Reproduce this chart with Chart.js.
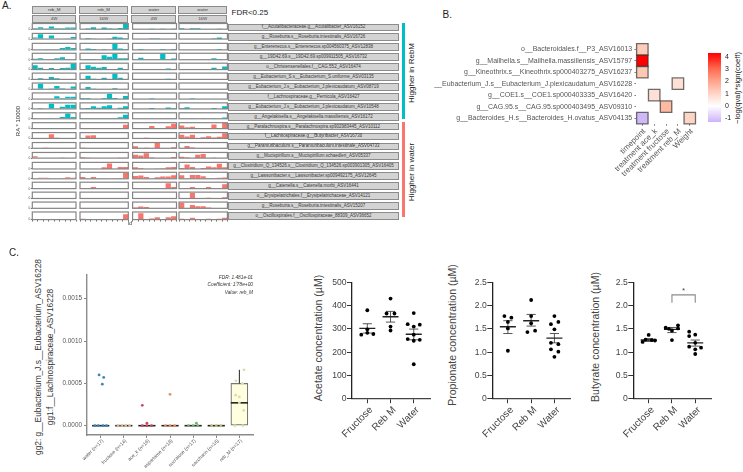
<!DOCTYPE html>
<html><head><meta charset="utf-8">
<script src="https://cdn.jsdelivr.net/npm/chart.js@4"></script>
<style>
html,body{margin:0;padding:0;background:#fff;width:743px;height:472px;overflow:hidden;font-family:"Liberation Sans",Arial,sans-serif}
#page{position:absolute;left:0;top:0;width:743px;height:472px;overflow:hidden;background:#fff;filter:blur(.3px)}
canvas{position:absolute}
.t{position:absolute;white-space:nowrap;line-height:1}
.box{position:absolute;box-sizing:border-box}
</style></head><body>
<div id="page"></div>
<script>
// ---------- Panel A data (fraction of each row's own scale)
const facetGroups=["reb_M","reb_M","water","water"];
const facetTimes=["4W","16W","4W","16W"];
const taxaLabels=[
"f__Acutalibacteraceae.g__Acutalibacter_ASV16152","g__Roseburia.s__Roseburia.intestinalis_ASV16726",
"g__Enterenecus.s__Enterenecus.sp004560375_ASV12838","g__19D42.69.s__19D42.69.sp009911505_ASV16732",
"o__Christensenellales.f__CAG.552_ASV16474","g__Eubacterium_S.s__Eubacterium_S.uniforme_ASV03135",
"g__Eubacterium_J.s__Eubacterium_J.plexicaudatum_ASV08719","f__Lachnospiraceae.g__Pernicola_ASV16427",
"g__Eubacterium_J.s__Eubacterium_J.plexicaudatum_ASV10548","g__Angelakisella.s__Angelakisella.massiliensis_ASV16172",
"g__Paralachnospira.s__Paralachnospira.sp902983445_ASV10112","f__Lachnospiraceae.g__Butyribacter_ASV16730",
"g__Paramuribaculum.s__Paramuribaculum.intestinale_ASV04733","g__Mucispirillum.s__Mucispirillum.schaedleri_ASV05337",
"g__Clostridium_Q_134526.s__Clostridium_Q_134526.sp003901305_ASV16405","g__Lawsonibacter.s__Lawsonibacter.sp009492175_ASV12645",
"g__Catenella.s__Catenella.morbi_ASV16441","o__Erysipelatrichales.f__Erysipelatrichaceae_ASV14121",
"g__Roseburia.s__Roseburia.intestinalis_ASV15207","o__Oscillospirales.f__Oscillospiraceae_88309_ASV36652"];
const rebM4W=[
[.15,.35,.05,.5,.15,.15,.3,.3],[.3,.85,.1,.65,.1,0,.15,.35],[.05,.05,.1,.1,.1,.3,.45,.3],[.15,.25,0,.1,.25,.4,.1,0],
[.7,.3,0,.25,0,.25,.3,.95],[0,.2,0,.4,.2,.05,0,0],[0,.9,.1,.05,.55,.15,0,.45],[0,0,0,0,.45,.2,.4,.4],
[.05,.15,0,.85,0,.35,.7,.7],[.03,0,0,.05,.05,.3,.9,.3],
[0,0,0,0,0,0,0,0],[0,.05,.05,.75,.1,0,.05,0],[0,0,.05,0,0,0,0,0],[.35,0,0,0,0,.05,0,0],[0,0,0,0,0,0,0,0],
[0,.15,.15,.1,.1,.05,.25,.15],[0,0,0,.08,0,0,0,0],[0,0,0,0,0,0,0,0],[0,0,0,0,0,0,0,0],[0,0,0,0,0,0,0,0]];
const rebM16W=[
[0,.12,.35,0,.3,.12,.1,.2,.95],[0,.15,.05,0,0,.05,.4,.3,.08],[0,.2,.15,0,.05,0,.95,.2,.1],[0,.1,.1,0,.7,.45,.9,.25,.25],
[.1,.7,.45,.3,.4,0,0,.3,0],[0,.6,.1,0,.25,0,.9,.25,0],[0,.35,.1,0,0,0,.15,0,0],[.12,.12,0,0,.12,.9,.2,0,.5],
[.05,.15,.45,.2,.45,.6,0,.2,.45],[.08,.08,.08,.08,.08,.08,.15,.25,.7],
[0,0,0,0,0,0,0,0,.65],[0,.5,.55,.05,0,0,0,0,0],[.1,0,0,0,0,0,0,0,0],[.15,.05,0,0,0,0,0,.08,.08],[0,0,0,0,.25,.85,0,.3,.3],
[.3,0,.3,.05,.05,0,.05,.1,.9],[0,.05,.25,0,0,0,0,0,0],[0,0,0,0,0,0,0,0,0],[0,0,0,0,0,0,0,0,0],[.1,0,0,0,0,0,0,0,.7]];
const water4W=[
[0,0,0,.07,0,.07,0,.07],[0,0,0,.1,.1,0,0,0],[0,.1,0,0,0,.1,0,.1],[0,.3,0,0,0,.95,0,.2],
[0,0,0,0,0,0,.15,0],[0,0,0,0,0,0,.1,0],[0,0,0,0,0,0,0,0],[0,0,0,.1,0,0,0,0],
[0,0,0,.15,0,0,.25,.1],[0,0,0,.05,0,.1,.1,.08],
[0,0,0,.45,0,0,.4,.85],[0,.05,.1,.05,0,0,0,0],[.35,0,.1,0,.95,0,0,.2],[.6,.45,.9,.1,0,0,0,.2],[.25,.1,0,0,.05,.08,.25,.3],
[.45,.5,.3,0,.25,.35,.35,.55],[0,.05,.05,0,0,0,.85,.25],[0,0,0,0,0,0,0,0],[.15,.3,.2,0,0,0,0,0],[.05,.85,0,.15,.3,0,.3,.45]];
const water16W=[
[.15,0,.15,.15,0,0,0,.1,0],[0,0,0,0,0,0,.1,.3,0],[0,0,0,0,0,0,0,.08,0],[0,0,0,0,0,0,.25,.1,0],
[0,0,0,0,0,0,.3,0,.5],[0,0,0,0,0,0,0,0,0],[0,0,0,0,0,0,0,0,0],[0,0,.1,0,0,0,0,0,0],
[.1,.3,0,0,0,0,.15,0,.45],[0,0,.1,0,.1,0,.1,0,.2],
[.55,.25,.3,0,0,0,.7,0,1],[.65,.35,.65,0,.2,.4,.15,.3,.9],[0,.4,.15,0,0,0,0,0,0],[.25,.1,0,.6,.75,0,.08,0,0],[.15,.7,.3,0,.15,.4,.25,.8,.25],
[.55,0,.6,.6,.4,.1,.1,.15,.2],[0,0,.25,0,0,.25,0,0,.7],[0,0,.9,.05,.05,.1,.05,0,.2],[.9,0,.55,.35,.35,.15,0,0,0],[.12,0,.25,0,.05,.1,0,.1,.25]];
const facetTickValues=[0,.5,1];
const facetTickText=["0","100","200"];
const sideTitles=["Higgher in RebM","Higgher in water"];

// ---------- Panel B data
const heatRows=["o__Bacteroidales.f__P3_ASV16013","g__Mailhella.s__Mailhella.massiliensis_ASV15797","g__Kineothrix.s__Kineothrix.sp000403275_ASV16237",
"g__Eubacterium_J.s__Eubacterium_J.plexicaudatum_ASV16228","g__COE1.s__COE1.sp000403335_ASV16420","g__CAG.95.s__CAG.95.sp000403495_ASV09310","g__Bacteroides_H.s__Bacteroides_H.ovatus_ASV04135"];
const heatCols=["timepoint","treatment ace_k","treatment fructose","treatment reb_M","Weight"];
const heatRowIndex=[0,1,2,3,4,5,6,6];
const heatColIndex=[0,0,0,3,1,2,0,4];
const heatColors=["#fdcdb9","#ff0000","#fdc9b5","#fee0d6","#fee0d6","#fcbaa2","#cfb8f7","#fdd5c5"];
const scaleTicks=[-1,0,1,2,3,4];
const scaleRange=[-1.3,4.3];

// ---------- Panel C data
const boxCategories=["water (n=17)","fructose (n=14)","ace_k (n=16)","aspartame (n=18)","sucralose (n=17)","saccharin (n=16)","reb_M (n=17)"];
const boxTicks=[0,0.0005,0.001,0.0015];
const boxLow=[0,0,0,0,0,0,0];
const boxHigh=[0,0,0,0,0,0,0.0005];
const boxMedian=[0,0,0,0,0,0,0.00027];
const whiskerTop=[0,0,0,0,0,0,0.00066];
const boxColors=["#3f84b8","#d6b98a","#c64a66","#e58d66","#74ad74","#bcbc78","#dcdcb0"];
const pointGroup=[0,0,0,0,0,0,0, 1,1,1,1, 2,2,2,2,2, 3,3,3,3, 4,4,4,4, 5,5,5, 6,6,6,6,6,6,6,6,6,6];
const pointX=[-.07,.13,.07,-.25,-.1,.1,.25, -.25,-.08,.08,.25, -.2,0,-.2,0,.2, 0,-.2,0,.2, .14,-.2,0,.2, -.2,0,.2, -.11,.2,-.15,.13,-.16,0,.19,0,-.2,.15];
const pointY=[.0006,.00057,.00049,0,0,0,0, 0,0,0,0, .00024,.00003,0,0,0, .00037,0,0,0, .00003,0,0,0, 0,0,0, .00169,.00066,.00053,.0005,.00036,.00034,.00018,.00027,0,0];
const boxNote=["FDR: 1.481e-01","Coefficient: 1.78e+00","Value: reb_M"];

// ---------- Bottom-right panels data
const scfaGroups=["Fructose","Reb M","Water"];
const acetateTicks=[0,100,200,300,400,500];
const acetateX=[0,0,-.26,0,.26, 0,-.17,.17,0,0, 0,-.26,0,.26,-.26,0,.26,0,0];
const acetateY=[380,298,275,283,278, 430,366,366,310,293, 368,320,310,318,256,249,253,148,275];
const acetateMean=[302,352,277], acetateLo=[282,329,253], acetateHi=[322,375,299];
const ratioTicks=[0,.5,1,1.5,2,2.5];
const propionateX=[-.15,.15,0,0,0, 0,0,0,-.16,.17, 0,-.15,.17,0,-.15,.17,-.15,.17,0];
const propionateY=[1.775,1.74,1.65,1.51,1.03, 2.12,1.775,1.62,1.43,1.46, 1.775,1.6,1.65,1.49,1.2,1.17,1.06,1.01,.9];
const propionateMean=[1.546,1.675,1.30], propionateLo=[1.40,1.56,1.2], propionateHi=[1.675,1.81,1.40];
const butyrateX=[0,-.26,-.13,.13,.27, .26,-.27,0,.26,0,-.13, -.26,0,-.26,0,-.26,.25,0,0];
const butyrateY=[1.37,1.22,1.27,1.26,1.25, 1.575,1.525,1.46,1.51,1.26,1.5, 1.44,1.375,1.345,1.2,1.117,1.095,1.06,.96];
const butyrateMean=[1.26,1.49,1.2], butyrateLo=[1.23,1.42,1.13], butyrateHi=[1.29,1.53,1.26];
const bracketX=[1,1,2,2], bracketY=[2.06,2.23,2.23,2.06];

// ---------- helpers
const FONT='"Liberation Sans",Arial,sans-serif';
Chart.defaults.animation=false;
Chart.defaults.responsive=false;
Chart.defaults.font.family=FONT;
Chart.defaults.plugins.legend.display=false;
Chart.defaults.plugins.tooltip.enabled=false;
Chart.defaults.devicePixelRatio=1;
const page=document.getElementById('page');

function txt(s,x,y,o={}){
  const e=document.createElement('div');e.className='t';e.textContent=s;
  e.style.cssText+=`left:${x}px;top:${y}px;font-size:${o.size||7}px;color:${o.color||'#333'};`+(o.italic?'font-style:italic;':'');
  const ax=o.align==='r'?'-100%':o.align==='l'?'0':'-50%';
  e.style.transform=`translate(${ax},-50%)`+(o.rot?` rotate(${o.rot}deg)`:'');
  page.appendChild(e);return e;
}
function rect(x,y,w,h,bg,border){
  const e=document.createElement('div');e.className='box';
  e.style.cssText+=`left:${x}px;top:${y}px;width:${w}px;height:${h}px;background:${bg};`+(border?`border:1px solid ${border};`:'');
  page.appendChild(e);return e;
}
function place(plot,ext,cfg){
  const L=Math.floor(plot.l-ext.left),T=Math.floor(plot.t-ext.top),R=Math.ceil(plot.r+ext.right),B=Math.ceil(plot.b+ext.bottom);
  const c=document.createElement('canvas');c.width=R-L;c.height=B-T;c.style.left=L+'px';c.style.top=T+'px';
  page.appendChild(c);
  const s=cfg.options.scales,xs=s.x,ys=s.y;
  const yOn=ys.display!==false,xOn=xs.display!==false,yRight=ys.position==='right';
  const leftGap=plot.l-L,rightGap=R-plot.r,xh=B-plot.b;
  ys.afterFit=a=>{a.width=yRight?rightGap:leftGap;a.paddingTop=a.paddingBottom=a.paddingLeft=a.paddingRight=0};
  xs.afterFit=a=>{a.height=xh;a.paddingTop=a.paddingBottom=a.paddingLeft=a.paddingRight=0};
  cfg.options.layout={autoPadding:false,padding:{top:plot.t-T,right:(yOn&&yRight)?0:rightGap,left:(yOn&&!yRight)?0:leftGap,bottom:xOn?0:xh}};
  return new Chart(c,cfg);
}
const frame={id:'frame',afterDatasetsDraw(ch){const a=ch.chartArea,x=ch.ctx;x.save();x.strokeStyle='#858585';x.lineWidth=1.2;x.strokeRect(a.left,a.top,a.right-a.left,a.bottom-a.top);x.restore();}};
const setTicks=vals=>a=>{a.ticks=vals.map(v=>({value:v}))};

// ---------- Panel A
txt("A.",2,6,{size:10,align:'l',color:'#222'});
txt("FDR<0.25",231.5,12.8,{size:8,align:'l',color:'#222'});
const colsL=[32.3,79,131.3,178], colsR=[76,128.3,176.5,227.4];
const facetData=[rebM4W,rebM16W,water4W,water16W];
const rowTop=i=>23.5+i*9.92, rowH=7.6;
facetGroups.forEach((g,c)=>{
  const w=colsR[c]-colsL[c];
  rect(colsL[c],6,w,8.3,'#d3d3d3','#8b8b8b');
  rect(colsL[c],14.8,w,8,'#d3d3d3','#8b8b8b');
  txt(g,colsL[c]+w/2,10.2,{size:4.4,color:'#444'});
  txt(facetTimes[c],colsL[c]+w/2,18.8,{size:4.4,color:'#444'});
});
taxaLabels.forEach((label,r)=>{
  const y=rowTop(r),teal=r<10;
  rect(228,y,171,rowH+.2,'#d3d3d3','#8b8b8b');
  txt(label,313.5,y+rowH/2,{size:4.5,color:'#3a3a3a'});
  facetData.forEach((col,c)=>{
    const vals=col[r],last=r===taxaLabels.length-1,first=c===0;
    place({l:colsL[c],r:colsR[c],t:y,b:y+rowH},{left:first?8:1,top:1,right:1,bottom:last?3:1},{
      type:'bar',plugins:[frame],
      data:{labels:vals.map((_,i)=>'id'+(i+1)),datasets:[{data:vals,backgroundColor:teal?'#00bfc4':'#f8766d',borderWidth:0,categoryPercentage:1,barPercentage:.96}]},
      options:{scales:{
        x:{display:last,grid:{display:true,drawOnChartArea:false,tickLength:2,color:'#777'},border:{display:false},ticks:{display:false,autoSkip:false}},
        y:{display:first,min:0,max:1.02,afterBuildTicks:setTicks(facetTickValues),grid:{display:true,drawOnChartArea:false,tickLength:1.5,color:'#777'},border:{display:false},
           ticks:{font:{size:3.2},color:'#555',padding:.5,callback:(v,i)=>facetTickText[i]}}
      }}
    });
  });
});
rect(401.7,23.3,3.6,95.7,'#00bfc4');
rect(401.7,121.7,3.6,95.6,'#f8766d');
txt(sideTitles[0],412.3,73.3,{size:8,rot:-90,color:'#222'});
txt(sideTitles[1],412.3,172.3,{size:8,rot:-90,color:'#222'});
txt("RA * 10000",18,120.5,{size:6,rot:-90,color:'#333'});
txt("id",130,224,{size:5.5,color:'#333'});

// ---------- Panel B
txt("B.",442.5,15,{size:10,align:'l',color:'#222'});
place({l:636.4,r:695.7,t:43.6,b:123.8},{left:202.4,top:3,right:3,bottom:62},{
  type:'scatter',
  data:{datasets:[{data:heatRowIndex.map((r,i)=>({x:heatColIndex[i],y:r})),pointStyle:'rect',pointRadius:8.1,
    backgroundColor:heatColors,borderColor:'rgba(50,50,50,.7)',borderWidth:1.3,clip:false}]},
  options:{scales:{
    x:{type:'linear',min:-.5,max:4.5,afterBuildTicks:setTicks(heatCols.map((_,i)=>i)),grid:{drawOnChartArea:false,tickLength:2,color:'#888'},border:{display:false},
       ticks:{autoSkip:false,font:{size:7.9},color:'#555',minRotation:45,maxRotation:45,padding:1,labelOffset:2,callback:(v,i)=>heatCols[i]}},
    y:{type:'linear',reverse:true,min:-.5,max:6.5,afterBuildTicks:setTicks(heatRows.map((_,i)=>i)),grid:{drawOnChartArea:false,tickLength:2,color:'#888'},border:{display:false},
       ticks:{autoSkip:false,font:{size:6.98},color:'#555',padding:2.2,callback:(v,i)=>heatRows[i]}}
  }}
});
place({l:708,r:721,t:53,b:127},{left:0,top:5,right:12,bottom:5},{
  type:'bar',
  data:{labels:['coeff'],datasets:[{data:[scaleRange],borderWidth:0,categoryPercentage:1,barPercentage:1,borderSkipped:false,
    backgroundColor:c=>{const a=c.chart.chartArea;if(!a)return '#fff';const g=c.chart.ctx.createLinearGradient(0,a.bottom,0,a.top);
      g.addColorStop(0,'#ccb3fa');g.addColorStop(.232,'#ffffff');g.addColorStop(.41,'#ffd5c8');g.addColorStop(.59,'#ffa48c');g.addColorStop(.77,'#ff6a4f');g.addColorStop(1,'#ff0000');return g;}}]},
  options:{scales:{
    x:{display:false},
    y:{position:'right',min:scaleRange[0],max:scaleRange[1],afterBuildTicks:setTicks(scaleTicks),grid:{display:false,drawTicks:false},border:{display:false},
       ticks:{autoSkip:false,font:{size:7},color:'#222',padding:4,callback:v=>String(v)}}
  }}
});
txt("−log(qval)*sign(coeff)",738,87.5,{size:7.6,rot:-90,color:'#222'});

// ---------- Panel C
txt("C.",9,253,{size:10,align:'l',color:'#222'});
txt("gg2: g__Eubacterium_J.s__Eubacterium_ASV16228",37.7,357,{size:8.4,rot:-90,color:'#333'});
txt("gg1:f__Lachnospiraceae_ASV16228",49.5,357,{size:8.4,rot:-90,color:'#333'});
const boxIdx=boxCategories.map((_,i)=>i);
const whiskerData=[];boxIdx.forEach(i=>{if(whiskerTop[i]>boxHigh[i])whiskerData.push({x:i,y:boxHigh[i]},{x:i,y:whiskerTop[i]})});
place({l:87,r:253,t:275,b:435},{left:32,top:3,right:3,bottom:36},{
  type:'bar',
  data:{datasets:[
    {type:'scatter',data:pointGroup.map((g,i)=>({x:g+pointX[i],y:pointY[i]})),pointRadius:1.4,borderWidth:0,backgroundColor:pointGroup.map(g=>boxColors[g]),clip:false},
    {type:'scatter',data:boxIdx.map(i=>({x:i,y:boxMedian[i]})),pointStyle:'line',pointRadius:8.6,borderColor:'#222',borderWidth:1.6,clip:false},
    {type:'scatter',showLine:true,data:whiskerData,borderColor:'#222',borderWidth:1,pointRadius:0},
    {type:'bar',data:boxIdx.map(i=>({x:i,y:[boxLow[i],boxHigh[i]]})),barThickness:17,backgroundColor:'#ffffe0',borderColor:'#777',borderWidth:1.2,borderSkipped:false}
  ]},
  options:{scales:{
    x:{type:'linear',offset:false,min:-.593,max:6.59,afterBuildTicks:setTicks(boxIdx),grid:{offset:false,drawOnChartArea:false,tickLength:3,color:'#888'},border:{color:'#8b8b8b',width:1.4},
       ticks:{autoSkip:false,font:{size:4.9},color:'#555',minRotation:45,maxRotation:45,padding:0,labelOffset:2,callback:(v,i)=>boxCategories[i]}},
    y:{min:-.00011,max:.00178,afterBuildTicks:setTicks(boxTicks),grid:{drawOnChartArea:false,tickLength:3,color:'#888'},border:{color:'#8b8b8b',width:1.4},
       ticks:{font:{size:6.4},color:'#555',padding:2,callback:v=>v.toFixed(4)}}
  }}
});
boxNote.forEach((s,i)=>txt(s,253,277.7+i*7.7,{size:4.8,italic:true,align:'r',color:'#333'}));

// ---------- SCFA panels
function scfa(plot,ticks,fmt,xs,ys,mean,lo,hi,extra){
  const err=[],capsLo=[],capsHi=[],means=[];
  mean.forEach((m,i)=>{err.push({x:i,y:lo[i]},{x:i,y:hi[i]},{x:i,y:null});capsLo.push({x:i,y:lo[i]});capsHi.push({x:i,y:hi[i]});means.push({x:i,y:m});});
  const sets=[
    {data:xs.map((x,i)=>({x:x.v,y:ys[i]})),pointRadius:1.9,backgroundColor:'#000',borderWidth:0,clip:false},
    {data:means,pointStyle:'line',pointRadius:8,borderColor:'#222',borderWidth:1.4},
    {data:capsLo,pointStyle:'line',pointRadius:4.6,borderColor:'#444',borderWidth:.9},
    {data:capsHi,pointStyle:'line',pointRadius:4.6,borderColor:'#444',borderWidth:.9},
    {data:err,showLine:true,borderColor:'#444',borderWidth:.9,pointRadius:0}
  ];
  if(extra)sets.push(extra);
  place(plot,{left:28,top:4,right:2,bottom:46},{
    type:'scatter',data:{datasets:sets},
    options:{scales:{
      x:{type:'linear',min:plot.x0,max:plot.x1,afterBuildTicks:setTicks(scfaGroups.map((_,i)=>i)),grid:{drawOnChartArea:false,tickLength:4.5,color:'#333'},border:{color:'#444',width:1.3},
         ticks:{autoSkip:false,font:{size:10},color:'#444',minRotation:45,maxRotation:45,padding:1,labelOffset:4,callback:(v,i)=>scfaGroups[i]}},
      y:{min:plot.y0,max:plot.y1,afterBuildTicks:setTicks(ticks),grid:{drawOnChartArea:false,tickLength:5,color:'#333'},border:{color:'#222',width:1.3},
         ticks:{font:{size:8.6},color:'#444',padding:.5,callback:fmt}}
    }}
  });
}
const withGroup=(arr,counts)=>{let g=0,n=0;return arr.map(o=>{if(n>=counts[g]){g++;n=0}n++;return {v:g+o}})};
const ratioFmt=v=>v===0?'0':v.toFixed(1);
scfa({l:352,r:430,t:282.3,b:398.7,x0:-.66,x1:2.7,y0:0,y1:500},acetateTicks,v=>String(v),withGroup(acetateX,[5,5,9]),acetateY,acetateMean,acetateLo,acetateHi);
scfa({l:492.3,r:570.7,t:282.3,b:398.7,x0:-.67,x1:2.7,y0:0,y1:2.5},ratioTicks,ratioFmt,withGroup(propionateX,[5,5,9]),propionateY,propionateMean,propionateLo,propionateHi);
scfa({l:633.3,r:711.3,t:282.3,b:398.7,x0:-.66,x1:2.69,y0:0,y1:2.5},ratioTicks,ratioFmt,withGroup(butyrateX,[5,6,8]),butyrateY,butyrateMean,butyrateLo,butyrateHi,
  {data:bracketX.map((x,i)=>({x,y:bracketY[i]})),showLine:true,borderColor:'#8a8a8a',borderWidth:1.1,pointRadius:0});
txt("Acetate concentration (µM)",318,338,{size:10.5,rot:-90,color:'#444'});
txt("Propionate concentration (µM)",452,334.5,{size:10.5,rot:-90,color:'#444'});
txt("Butyrate concentration (µM)",595,336.5,{size:10.5,rot:-90,color:'#444'});
txt("*",683.5,291,{size:8,color:'#444'});
</script>
</body></html>
